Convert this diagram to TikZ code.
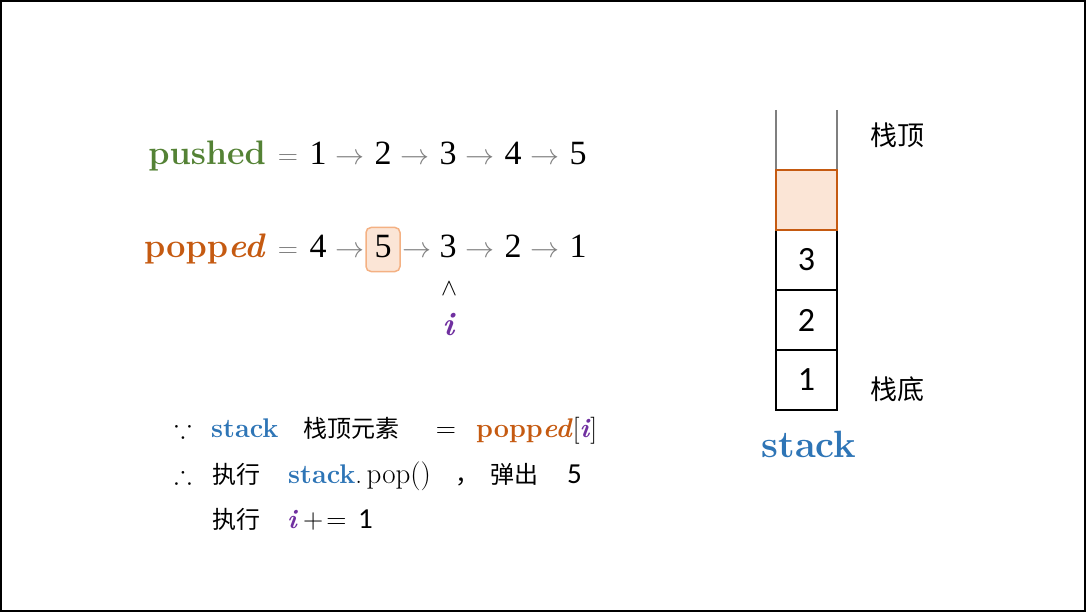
\RequirePackage{fix-cm}
\documentclass[tikz,border=0pt]{standalone}
\usepackage{amssymb}
\usepackage{fontspec}
\newfontfamily\cjk{Noto Sans CJK SC}
\newfontfamily\calfont{Carlito}
\newfontfamily\numfont{Liberation Serif}
\definecolor{cgreen}{HTML}{548235}
\definecolor{corange}{HTML}{C55A11}
\definecolor{cblue}{HTML}{2E75B6}
\definecolor{cpurple}{HTML}{7030A0}
\definecolor{cgray}{HTML}{7F7F7F}
\definecolor{cfill}{HTML}{FBE5D6}
\definecolor{clight}{HTML}{F4B183}
\tikzset{
  mrow/.style={anchor=base,inner sep=0pt,font=\fontsize{34}{38}\selectfont},
  mnum/.style={anchor=base,inner sep=0pt,font=\numfont\fontsize{34}{38}\selectfont},
  marr/.style={anchor=base,inner sep=0pt,text=cgray,font=\fontsize{29}{30}\selectfont},
  meq/.style={anchor=base,inner sep=0pt,text=cgray,font=\fontsize{28}{30}\selectfont},
  btxt/.style={anchor=base west,inner sep=0pt,font=\fontsize{27}{32}\selectfont},
  ctxt/.style={anchor=base west,inner sep=0pt,font=\cjk\fontsize{24}{30}\selectfont},
  cell/.style={draw=black,line width=1.5pt,minimum width=61pt,minimum height=60pt,inner sep=0pt,font=\calfont\fontsize{34}{40}\selectfont},
}
\begin{document}
\begin{tikzpicture}[x=1pt,y=-1pt]
\useasboundingbox (0,0) rectangle (1086,612);
\draw[line width=2pt] (1,1) rectangle (1085,611);
% pushed row
\node[mrow,anchor=base east,text=cgreen] (pl) at (266,165) {\textbf{pushed}};
\node[meq] (peq) at (288,165) {$=$};
\node[mnum] (p1) at (318,165) {1};
\node[marr] (pa1) at (350,165) {$\rightarrow$};
\node[mnum] (p2) at (383,165) {2};
\node[marr] (pa2) at (415,165) {$\rightarrow$};
\node[mnum] (p3) at (448,165) {3};
\node[marr] (pa3) at (480,165) {$\rightarrow$};
\node[mnum] (p4) at (513,165) {4};
\node[marr] (pa4) at (545,165) {$\rightarrow$};
\node[mnum] (p5) at (578,165) {5};
% popped row
\node[draw=clight,fill=cfill,line width=1.5pt,rounded corners=5pt,minimum width=34pt,minimum height=44pt] (box5) at (383,249.5) {};
\node[mrow,anchor=base east,text=corange] (ql) at (266,258) {\textbf{popp\textit{ed}}};
\node[meq] (qeq) at (288,258) {$=$};
\node[mnum] (q4) at (318,258) {4};
\node[marr] (qa1) at (350,258) {$\rightarrow$};
\node[mnum] (q5) at (383,258) {5};
\node[marr] (qa2) at (417,258) {$\rightarrow$};
\node[mnum] (q3) at (448,258) {3};
\node[marr] (qa3) at (480,258) {$\rightarrow$};
\node[mnum] (q2) at (513,258) {2};
\node[marr] (qa4) at (545,258) {$\rightarrow$};
\node[mnum] (q1) at (578,258) {1};
\node[inner sep=0pt,font=\fontsize{24}{28}\selectfont] (caret) at (449,289) {$\wedge$};
\node[inner sep=0pt,text=cpurple,font=\fontsize{33}{38}\selectfont] (iv) at (449,325) {\textbf{\textit{i}}};
% stack
\draw[cgray,line width=1.5pt] (776,110) -- (776,170);
\draw[cgray,line width=1.5pt] (837,110) -- (837,170);
\node[cell] (c3) at (806.5,260) {3};
\node[cell] (c2) at (806.5,320) {2};
\node[cell] (c1) at (806.5,380) {1};
\node[cell,draw=corange,fill=cfill,line width=2.8pt] (ctop) at (806.5,200) {};
\node[ctxt,font=\cjk\fontsize{27}{30}\selectfont,anchor=center] (top) at (897,135) {栈顶};
\node[ctxt,font=\cjk\fontsize{27}{30}\selectfont,anchor=center] (bot) at (897,389) {栈底};
\node[inner sep=0pt,text=cblue,font=\fontsize{38}{44}\selectfont] (stk) at (809,444) {\textbf{stack}};
% bottom text row 1
\node[anchor=base,inner sep=0pt,font=\fontsize{26}{28}\selectfont] (because) at (183,437) {$\because$};
\node[btxt,text=cblue] (s1) at (211,437) {\textbf{stack}};
\node[ctxt] (t1) at (303,437) {栈顶元素};
\node[anchor=base,inner sep=0pt,font=\fontsize{28}{30}\selectfont] (eq1) at (446,437) {$=$};
\node[btxt] (pi) at (476,437) {\textcolor{corange}{\textbf{popp\textit{ed}}}[\textcolor{cpurple}{\textbf{\textit{i}}}]};
% row 2
\node[anchor=base,inner sep=0pt,font=\fontsize{26}{28}\selectfont] (therefore) at (183,483) {$\therefore$};
\node[ctxt] (e1) at (212,483) {执行};
\node[btxt] (pop) at (288,483) {\textcolor{cblue}{\textbf{stack}}.\,{\fontsize{29}{32}\selectfont pop()}};
\node[ctxt] (comma) at (455,483) {，};
\node[ctxt] (tan) at (490,483) {弹出};
\node[anchor=base west,inner sep=0pt,font=\calfont\fontsize{29}{30}\selectfont] (five) at (567,483) {5};
% row 3
\node[ctxt] (e2) at (212,528) {执行};
\node[btxt,text=cpurple] (i2) at (287,528) {\textbf{\textit{i}}};
\node[anchor=base west,inner sep=0pt,font=\fontsize{28}{30}\selectfont] (inc) at (303,528) {$+\!=$};
\node[anchor=base west,inner sep=0pt,font=\calfont\fontsize{29}{30}\selectfont] (one) at (358,528) {1};
\end{tikzpicture}
\end{document}
